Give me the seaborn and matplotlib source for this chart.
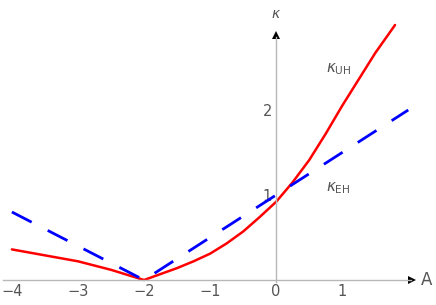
import numpy as np
import pandas as pd
import matplotlib
matplotlib.use("Agg")
import matplotlib.pyplot as plt
import seaborn as sns

# kappa_UH (red, solid)
A_uh = [-4.0, -3.5, -3.0, -2.5, -2.0, -1.75, -1.5, -1.25, -1.0, -0.75, -0.5,
        -0.25, 0.0, 0.25, 0.5, 0.75, 1.0, 1.25, 1.5, 1.8]
k_uh = [0.36, 0.29, 0.22, 0.12, 0.0, 0.07, 0.14, 0.22, 0.31, 0.43, 0.57,
        0.74, 0.92, 1.15, 1.41, 1.72, 2.05, 2.36, 2.67, 3.0]

# kappa_EH (blue, dashed)
A_eh = [-4.0, -2.0, 2.0]
k_eh = [0.8, 0.0, 2.0]

x_ticks = [-4, -3, -2, -1, 0, 1]
y_ticks = [1, 2]

sns.set_style("white")
axis_gray = "#b8b8b8"
text_gray = "#555555"

fig = plt.figure(figsize=(4.36, 3.05), dpi=100)
ax = fig.add_axes([0, 0, 1, 1])

df_uh = pd.DataFrame({"A": A_uh, "k": k_uh})
df_eh = pd.DataFrame({"A": A_eh, "k": k_eh})
sns.lineplot(data=df_uh, x="A", y="k", ax=ax, color="#ff0000", lw=1.8,
             sort=False, estimator=None)
sns.lineplot(data=df_eh, x="A", y="k", ax=ax, color="#0000ff", lw=2.0,
             sort=False, estimator=None, linestyle=(0, (8, 6.5)))

ax.set_xlim(-4.18, 2.42)
ax.set_ylim(-0.294, 3.294)

# axes through the origin
for s in ["top", "right"]:
    ax.spines[s].set_visible(False)
ax.spines["left"].set_position(("data", 0))
ax.spines["bottom"].set_position(("data", 0))
ax.spines["left"].set_bounds(-0.02, 2.86)
ax.spines["bottom"].set_bounds(-4.14, 2.04)
for s in ["left", "bottom"]:
    ax.spines[s].set_color(axis_gray)
    ax.spines[s].set_linewidth(1.0)

ax.plot(2.06, 0, marker=">", color="black", ms=6, clip_on=False,
        markeredgewidth=0)
ax.plot(0, 2.88, marker="^", color="black", ms=6, clip_on=False,
        markeredgewidth=0)

ax.set_xticks(x_ticks)
ax.set_yticks(y_ticks)
ax.set_xticklabels([f"\u2212{abs(t)}" if t < 0 else str(t) for t in x_ticks])
ax.tick_params(direction="in", length=3, color=axis_gray, labelcolor=text_gray,
               labelsize=10.5, pad=3)
ax.tick_params(axis="y", pad=3)
ax.set_xlabel("")
ax.set_ylabel("")

ax.text(2.28, 0.0, "A", fontsize=12, color=text_gray, ha="center", va="center")
ax.text(0.0, 3.13, r"$\kappa$", fontsize=10, color=text_gray, ha="center", va="center")
ax.text(0.94, 2.48, r"$\kappa_{\mathrm{UH}}$", fontsize=11, color=text_gray,
        ha="center", va="center")
ax.text(0.94, 1.08, r"$\kappa_{\mathrm{EH}}$", fontsize=11, color=text_gray,
        ha="center", va="center")

fig.savefig("out.png", dpi=100)
